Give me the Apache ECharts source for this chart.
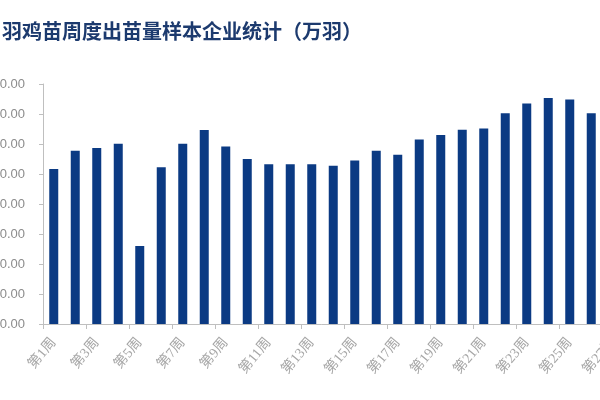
<!DOCTYPE html>
<html>
<head>
<meta charset="utf-8">
<script src="https://cdn.jsdelivr.net/npm/echarts@6/dist/echarts.min.js"></script>
<style>
  html, body { margin: 0; padding: 0; background: #fff; }
  #chart { width: 600px; height: 400px; }
</style>
</head>
<body>
<div id="chart"></div>
<script>
// 白羽鸡苗周度出苗量样本企业统计（万羽）
const weeks = ['第1周', '第2周', '第3周', '第4周', '第5周', '第6周', '第7周', '第8周', '第9周',
  '第10周', '第11周', '第12周', '第13周', '第14周', '第15周', '第16周', '第17周', '第18周',
  '第19周', '第20周', '第21周', '第22周', '第23周', '第24周', '第25周', '第26周', '第27周']
// 第27周 falls outside the cropped picture, so its value is unknown
const output = [2585, 2888, 2933, 3005, 1300, 2611, 3005, 3232, 2960, 2750, 2661, 2661, 2661,
  2639, 2727, 2888, 2822, 3076, 3149, 3237, 3259, 3514, 3674, 3768, 3740, 3514, null]

const myChart = echarts.init(document.getElementById('chart'))
const option = {
  animation: false,
  title: {
    text: '白羽鸡苗周度出苗量样本企业统计（万羽）',
    left: -18,
    top: 21,
    padding: 0,
    textStyle: {
      color: '#1c3a6e',
      fontSize: 20,
      fontWeight: 'bold',
      fontFamily: 'Noto Sans CJK SC'
    }
  },
  grid: {
    left: 43,
    right: -23.5,
    top: 84,
    bottom: 76,
    containLabel: false,
    outerBoundsMode: 'none'
  },
  xAxis: {
    type: 'category',
    data: weeks,
    axisLine: { lineStyle: { color: '#bfbfbf' } },
    axisTick: { show: true, length: 5, lineStyle: { color: '#bfbfbf' } },
    axisLabel: {
      interval: 1,
      rotate: 50,
      margin: 16,
      color: '#a6a6a6',
      fontSize: 14,
      fontFamily: 'Liberation Serif, Noto Sans CJK SC'
    }
  },
  yAxis: {
    type: 'value',
    min: 0,
    max: 4000,
    interval: 500,
    axisLine: { show: true, lineStyle: { color: '#bfbfbf' } },
    axisTick: { show: true, length: 4, lineStyle: { color: '#bfbfbf' } },
    splitLine: { show: false },
    axisLabel: {
      margin: 18,
      color: '#8c8c8c',
      fontSize: 13,
      fontFamily: 'Liberation Sans',
      formatter: v => v.toFixed(2)
    }
  },
  series: [
    {
      name: '出苗量',
      type: 'bar',
      data: output,
      barWidth: 9,
      itemStyle: { color: '#0b3a83' }
    }
  ]
}
myChart.setOption(option)
</script>
</body>
</html>
